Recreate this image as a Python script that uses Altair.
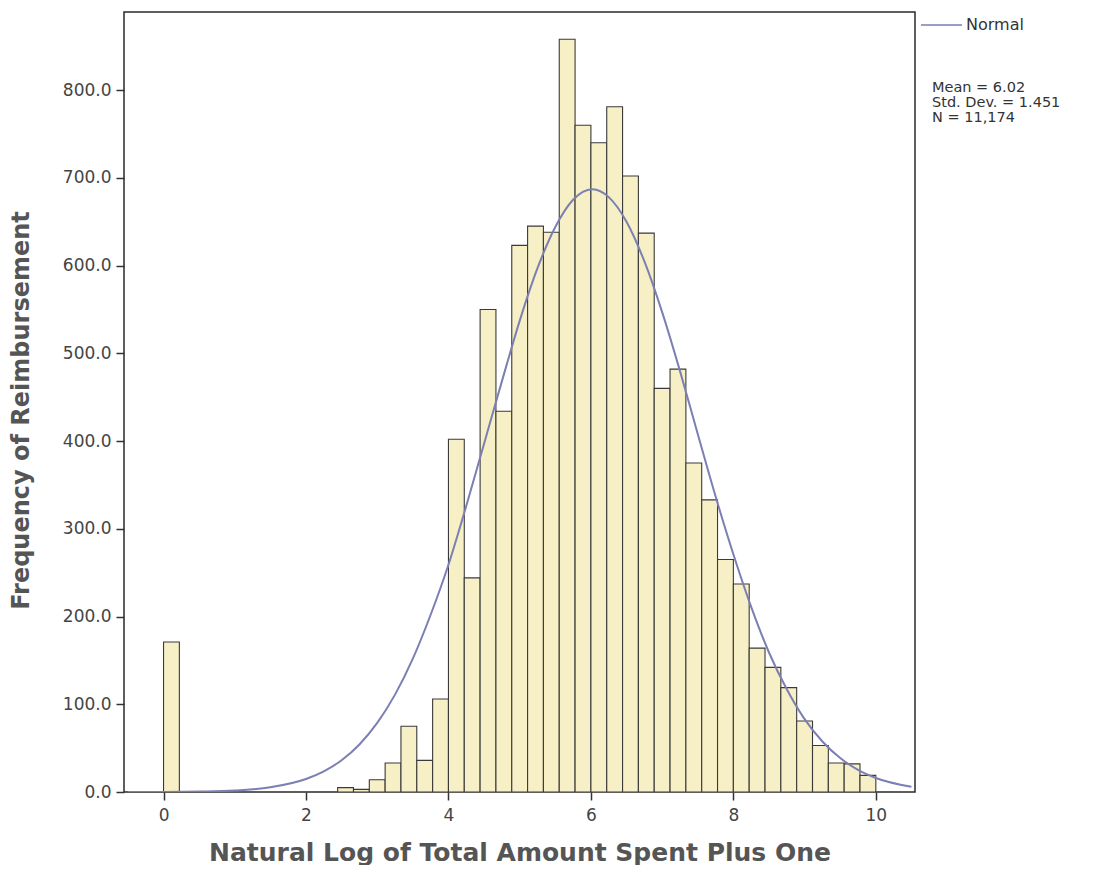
import altair as alt
import pandas as pd

# ---- data ----
bin_count = 45
bin_lo, bin_hi = 0.0, 10.0
counts = [171, 0, 0, 0, 0, 0, 0, 0, 0, 0,
          0, 5, 3, 14, 33, 75, 36, 106, 402, 244,
          550, 434, 623, 645, 638, 858, 760, 740, 781, 702,
          637, 460, 482, 375, 333, 265, 237, 164, 142, 119,
          81, 53, 33, 32, 19]

curve_x = [-0.5, 0.0, 0.5, 1.0, 1.5, 2.0, 2.25, 2.5, 2.75, 3.0, 3.25, 3.5, 3.75,
           4.0, 4.25, 4.5, 4.75, 5.0, 5.25, 5.5, 5.75, 6.02, 6.25, 6.5, 6.75,
           7.0, 7.25, 7.5, 7.75, 8.0, 8.25, 8.5, 8.75, 9.0, 9.25, 9.5, 9.75,
           10.0, 10.5]
curve_y = [0.0, 0.1, 0.5, 1.7, 5.4, 14.8, 23.5, 36.2, 54.2, 78.8, 111, 152, 202,
           259, 326, 397, 468, 537, 597, 644, 675, 687, 678, 650, 605,
           547, 480, 408, 337, 271, 211, 159, 117, 83, 57.6, 38.7, 25.2,
           16.0, 5.9]

legend_label = ["Normal"]
stats_lines = ["Mean = 6.02", "Std. Dev. = 1.451", "N = 11,174"]

x_ticks = [0, 2, 4, 6, 8, 10]
y_ticks = [0, 100, 200, 300, 400, 500, 600, 700, 800]

x_title = "Natural Log of Total Amount Spent Plus One"
y_title = "Frequency of Reimbursement"

# ---- tables ----
w = (bin_hi - bin_lo) / bin_count
bars_df = pd.DataFrame({
    "start": [bin_lo + i * w for i in range(bin_count)],
    "end": [bin_lo + (i + 1) * w for i in range(bin_count)],
    "count": counts,
})
bars_df = bars_df[bars_df["count"] > 0].copy()
bars_df["base"] = 0
curve_df = pd.DataFrame({"x": curve_x, "y": curve_y})

FONT = "DejaVu Sans"
TFONT = "DejaVu Sans"
xs = alt.Scale(domain=[-0.555, 10.55], nice=False, zero=False)
ys = alt.Scale(domain=[0, 889], nice=False)

bars = alt.Chart(bars_df).mark_bar(
    fill="#f7efc6", stroke="#3a3a3a", strokeWidth=1.1, clip=True
).encode(
    x=alt.X("start:Q", scale=xs, title=x_title,
            axis=alt.Axis(values=x_ticks, format="d", domain=False, grid=False,
                          tickSize=8, tickColor="#333", tickWidth=1.5,
                          labelFontSize=17, labelColor="#444", labelFont=FONT,
                          labelPadding=7, titleFont=TFONT, titleFontSize=25,
                          titleFontWeight="bold", titleColor="#555",
                          titleX=395.5, titleY=60, titleAlign="center",
                          titleBaseline="middle")),
    x2="end:Q",
    y=alt.Y("count:Q", scale=ys, title=y_title,
            axis=alt.Axis(values=y_ticks, format=".1f", domain=False, grid=False,
                          tickSize=8, tickColor="#333", tickWidth=1.5,
                          labelFontSize=17, labelColor="#444", labelFont=FONT,
                          labelPadding=5, titleFont=TFONT, titleFontSize=24,
                          titleFontWeight="bold", titleColor="#555",
                          titleX=-103, titleY=398, titleAlign="center",
                          titleBaseline="middle", titleAngle=270)),
    y2="base:Q",
)

curve = alt.Chart(curve_df).mark_line(
    color="#7b7fb2", strokeWidth=2, interpolate="monotone", clip=True
).encode(x=alt.X("x:Q", scale=xs), y=alt.Y("y:Q", scale=ys))

leg_line = alt.Chart(pd.DataFrame({"k": legend_label})).mark_rule(
    color="#7b7fb2", strokeWidth=1.5
).encode(x=alt.value(797), x2=alt.value(838), y=alt.value(13))

leg_text = alt.Chart(pd.DataFrame({"t": legend_label})).mark_text(
    align="left", baseline="middle", fontSize=16, font=FONT, color="#333"
).encode(x=alt.value(842), y=alt.value(13), text="t:N")

stats_df = pd.DataFrame({"t": ["\n".join(stats_lines)]})
stats = alt.Chart(stats_df).mark_text(
    align="left", baseline="top", fontSize=14.5, font=FONT, color="#333",
    lineBreak="\n", lineHeight=15
).encode(x=alt.value(808), y=alt.value(69), text="t:N")

chart = alt.layer(bars, curve, leg_line, leg_text, stats).properties(
    width=791, height=780,
    autosize=alt.AutoSizeParams(type="none"),
    padding={"left": 116, "top": 4, "right": 175, "bottom": 73},
).configure(
    background="white",
    view=alt.ViewConfig(stroke="#2a2a2a", strokeWidth=1.5),
)

chart.save("out.html", embed_options={"renderer": "svg", "actions": False})
